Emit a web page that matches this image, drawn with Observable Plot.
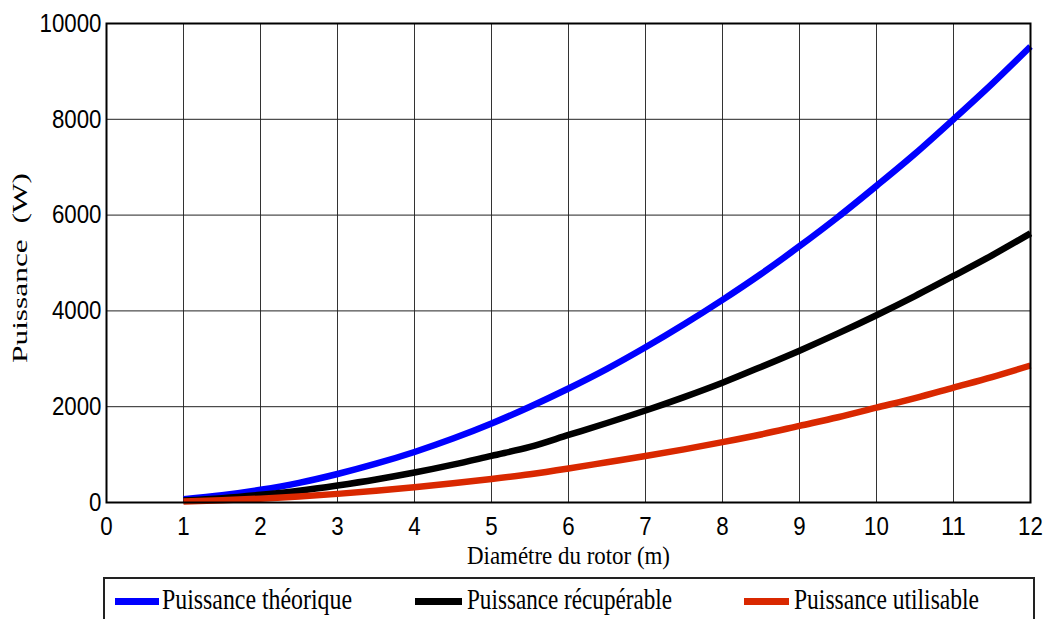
<!DOCTYPE html>
<html>
<head>
<meta charset="utf-8">
<script src="https://cdn.jsdelivr.net/npm/d3@7"></script>
<script src="https://cdn.jsdelivr.net/npm/@observablehq/plot@0.6"></script>
<style>
  html, body { margin: 0; padding: 0; background: #fff; overflow: hidden; width: 1049px; height: 619px; }
  #chart svg { display: block; }
  #legend {
    position: absolute; left: 103px; top: 577px; width: 932px; height: 60px;
    border: 2px solid #222; box-sizing: border-box; background: #fff;
    font-family: "Liberation Serif", "Times New Roman", serif; font-size: 29px; color: #000;
  }
  .sw { position: absolute; top: 19px; height: 7px; }
  .tx { position: absolute; top: 6px; white-space: nowrap; transform-origin: 0 0; line-height: 1; }
</style>
</head>
<body>
<div id="chart"></div>
<div id="legend"></div>
<script>
const diametre = [1,1.5,2,2.5,3,3.5,4,4.5,5,5.5,6,6.5,7,7.5,8,8.5,9,9.5,10,10.5,11,11.5,12];
const theorique = [66,150,265,410,595,810,1055,1335,1650,2000,2380,2790,3240,3720,4230,4770,5350,5960,6610,7280,8000,8740,9520];
const recuperable = [40,90,160,245,355,480,625,790,975,1160,1410,1660,1920,2200,2500,2830,3170,3530,3910,4310,4730,5160,5620];
const utilisable = [20,45,80,125,180,245,320,400,490,590,710,840,970,1110,1260,1420,1600,1780,1980,2180,2400,2620,2860];
const seriesNames = ["Puissance théorique","Puissance récupérable","Puissance utilisable"];
const seriesColors = ["#0000ff","#000000","#d92800"];
const xTicks = [0,1,2,3,4,5,6,7,8,9,10,11,12];
const yTicks = [0,2000,4000,6000,8000,10000];
const xLabel = "Diamétre du rotor (m)";
const yLabel = "Puissance  (W)";

const values = [theorique, recuperable, utilisable];
const data = [];
values.forEach((arr, s) => arr.forEach((v, i) => data.push({d: diametre[i], p: v, serie: seriesNames[s]})));

const serif = "'Liberation Serif', 'Times New Roman', serif";
const chart = Plot.plot({
  width: 1049,
  height: 575,
  marginLeft: 106,
  marginRight: 19,
  marginTop: 23,
  marginBottom: 73,
  x: {domain: [0, 12]},
  y: {domain: [0, 10000]},
  color: {domain: seriesNames, range: seriesColors},
  style: {fontFamily: "'Liberation Sans', Arial, sans-serif", background: "#fff"},
  marks: [
    Plot.ruleX(xTicks.slice(1, -1), {stroke: "#333", strokeWidth: 1}),
    Plot.ruleY(yTicks.slice(1, -1), {stroke: "#222", strokeWidth: 1}),
    Plot.line(data, {x: "d", y: "p", z: "serie", stroke: "serie", strokeWidth: 6.5, curve: "monotone-x", strokeLinecap: "butt", strokeLinejoin: "round"}),
    Plot.frame({stroke: "#000", strokeWidth: 2}),
    Plot.axisX({ticks: xTicks, tickSize: 0, tickPadding: 14, fontSize: 26, label: null, tickFormat: d => String(d)}),
    Plot.axisY({ticks: yTicks, tickSize: 0, tickPadding: 5, fontSize: 26, label: null, tickFormat: d => String(d)}),
    Plot.text([xLabel], {frameAnchor: "bottom", dy: 61, text: d => d, fontSize: 25, fontFamily: serif, fill: "#000"}),
    Plot.text([yLabel], {frameAnchor: "left", dx: -86, dy: 5, rotate: -90, textAnchor: "middle", text: d => d, fontSize: 21, fontFamily: serif, fill: "#000"})
  ]
});
document.getElementById("chart").appendChild(chart);

// condensed look of the original export
const tickTexts = new Set([...xTicks, ...yTicks].map(String));
d3.select(chart).selectAll("text").each(function() {
  const s = this.textContent;
  if (tickTexts.has(s)) {
    this.setAttribute("textLength", s.length * 12.4);
    this.setAttribute("lengthAdjust", "spacingAndGlyphs");
  } else if (s === yLabel) {
    this.setAttribute("textLength", 190);
    this.setAttribute("lengthAdjust", "spacingAndGlyphs");
  } else if (s === xLabel) {
    this.setAttribute("textLength", 203);
    this.setAttribute("lengthAdjust", "spacingAndGlyphs");
  }
});

const legend = document.getElementById("legend");
const swX = [[10, 54], [310, 357], [639, 684]];
const txX = [57, 362, 689];
const txW = [190, 205, 185];
seriesNames.forEach((n, i) => {
  const sw = document.createElement("div");
  sw.className = "sw";
  sw.style.left = swX[i][0] + "px";
  sw.style.width = (swX[i][1] - swX[i][0]) + "px";
  sw.style.background = seriesColors[i];
  legend.appendChild(sw);
  const t = document.createElement("div");
  t.className = "tx";
  t.style.left = txX[i] + "px";
  t.textContent = n;
  legend.appendChild(t);
  const w = t.getBoundingClientRect().width;
  t.style.transform = `scaleX(${txW[i] / w})`;
});
</script>
</body>
</html>
